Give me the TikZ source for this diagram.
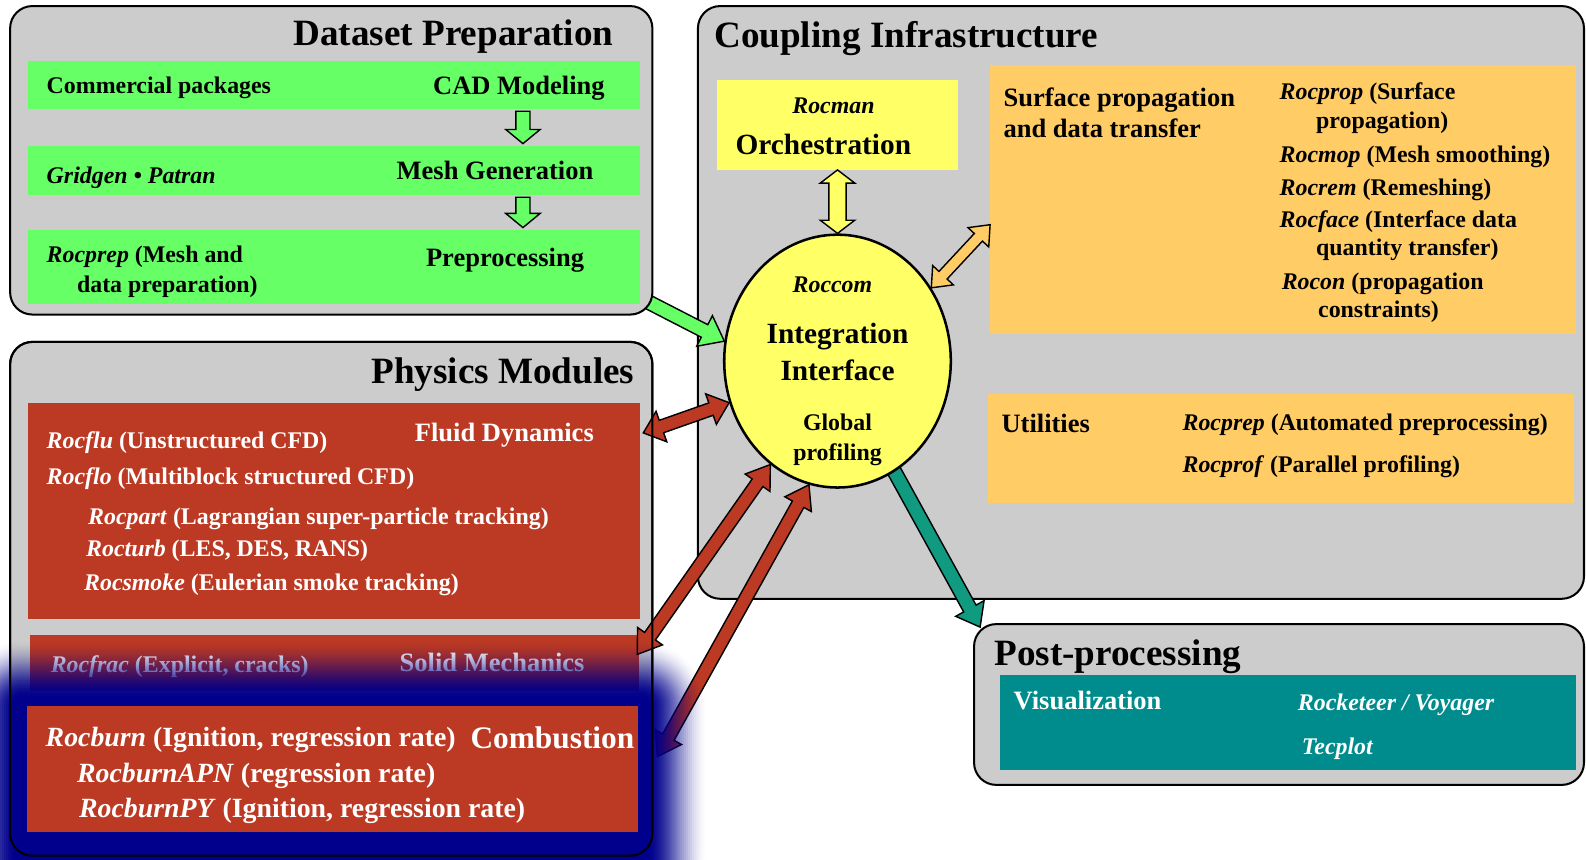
\documentclass[tikz,border=0pt]{standalone}
\usepackage{fontspec}
\setmainfont{Liberation Serif}
\usetikzlibrary{calc,shapes.geometric}
\pgfdeclarelayer{back}
\pgfdeclarelayer{mid}
\pgfdeclarelayer{top}
\pgfsetlayers{back,mid,main,top}

\definecolor{panelgray}{HTML}{CCCCCC}
\definecolor{prepgreen}{HTML}{66FF66}
\definecolor{ifcyellow}{HTML}{FFFF66}
\definecolor{svcorange}{HTML}{FFCC66}
\definecolor{physred}{RGB}{188,58,36}
\definecolor{vizteal}{RGB}{0,140,140}
\definecolor{linkteal}{RGB}{16,154,128}
\definecolor{glownavy}{RGB}{0,0,140}

% direction and length of the segment from #1 to #2 (in pt)
\newcommand\blockarrowframe[2]{%
  \path let \p1=($(#2)-(#1)$) in \pgfextra{%
    \pgfmathsetmacro\baAng{atan2(\y1,\x1)}%
    \pgfmathsetmacro\baLen{veclen(\x1,\y1)}%
    \global\let\baAng\baAng\global\let\baLen\baLen};}
% block arrow: style, from, to, shaft half width, head half width, head length
\newcommand\onewayarrow[6]{%
  \blockarrowframe{#2}{#3}%
  \begin{scope}[shift={(#2)},rotate=\baAng,x=1pt,y=1pt]
    \draw[#1] (0,-#4) -- ({\baLen-#6},-#4) -- ({\baLen-#6},-#5) -- (\baLen,0)
      -- ({\baLen-#6},#5) -- ({\baLen-#6},#4) -- (0,#4) -- cycle;
  \end{scope}}
\newcommand\twowayarrow[6]{%
  \blockarrowframe{#2}{#3}%
  \begin{scope}[shift={(#2)},rotate=\baAng,x=1pt,y=1pt]
    \draw[#1] (0,0) -- (#6,#5) -- (#6,#4) -- ({\baLen-#6},#4) -- ({\baLen-#6},#5)
      -- (\baLen,0) -- ({\baLen-#6},-#5) -- ({\baLen-#6},-#4) -- (#6,-#4) -- (#6,-#5) -- cycle;
  \end{scope}}

\begin{document}
\begin{tikzpicture}[x=1pt,y=-1pt,
  panel/.style={draw=black,line width=2,fill=panelgray,rounded corners=22,anchor=north west,inner sep=0,outer sep=0},
  fillbox/.style={fill=#1,anchor=north west,inner sep=0,outer sep=0},
  ttl/.style={anchor=base west,inner sep=0,font=\fontsize{36.7pt}{40pt}\selectfont\bfseries},
  hdtxt/.style={anchor=base west,inner sep=0,font=\fontsize{26.2pt}{30pt}\selectfont\bfseries},
  itemtxt/.style={anchor=base west,inner sep=0,font=\fontsize{23.6pt}{28pt}\selectfont\bfseries},
  bigtxt/.style={anchor=base,inner sep=0,font=\fontsize{29pt}{32pt}\selectfont\bfseries},
  combtxt/.style={anchor=base west,inner sep=0,text=white,font=\fontsize{27.5pt}{31pt}\selectfont\bfseries},
  combhd/.style={anchor=base west,inner sep=0,text=white,font=\fontsize{31pt}{34pt}\selectfont\bfseries},
  blockarrow/.style={draw=black,line width=1.4,line join=miter,fill=#1}]
\useasboundingbox (0,0) rectangle (1568,850);

% ---------------- panels drawn underneath everything
\begin{pgfonlayer}{back}
  \node[panel,minimum width=876,minimum height=586] (cpl) at (690,6) {};
  \node[panel,minimum width=603,minimum height=159] (post) at (963,617) {};
\end{pgfonlayer}

% ---------------- Coupling Infrastructure
\node[ttl] (cpltitle) at (706,47) {Coupling Infrastructure};
\node[fillbox=ifcyellow,minimum width=238,minimum height=89] (orch) at (709,79) {};
\node[itemtxt,anchor=base] (rocman) at (824,112) {\textit{Rocman}};
\node[bigtxt] (orchtxt) at (814,153) {Orchestration};

\node[fillbox=svcorange,minimum width=579,minimum height=266] (surf) at (979,64) {};
\node[hdtxt] (surf1) at (992,105) {Surface propagation};
\node[hdtxt] (surf2) at (992,136) {and data transfer};
\node[itemtxt] (prop1) at (1265,98) {\textit{Rocprop} (Surface};
\node[itemtxt] (prop2) at (1301,127) {propagation)};
\node[itemtxt] (mop) at (1265,161) {\textit{Rocmop} (Mesh smoothing)};
\node[itemtxt] (rem) at (1265,193) {\textit{Rocrem} (Remeshing)};
\node[itemtxt] (face1) at (1265,225) {\textit{Rocface} (Interface data};
\node[itemtxt] (face2) at (1301,253) {quantity transfer)};
\node[itemtxt] (con1) at (1267,286) {\textit{Rocon} (propagation};
\node[itemtxt] (con2) at (1303,314) {constraints)};

\node[fillbox=svcorange,minimum width=579,minimum height=107] (util) at (977,390) {};
\node[hdtxt] (utiltxt) at (990,428) {Utilities};
\node[itemtxt] (uprep) at (1169,426) {\textit{Rocprep} (Automated preprocessing)};
\node[itemtxt] (uprof) at (1169,467) {\textit{Rocprof} (Parallel profiling)};

% integration interface
\node[ellipse,draw=black,line width=2.5,fill=ifcyellow,minimum width=224,minimum height=250,inner sep=0] (ifc) at (828,357) {};
\node[itemtxt,anchor=base] (roccom) at (823,289) {\textit{Roccom}};
\node[bigtxt] (integ) at (828,340) {Integration};
\node[bigtxt] (iface) at (828,376) {Interface};
\node[itemtxt,anchor=base] (glob) at (828,426) {Global};
\node[itemtxt,anchor=base] (prof) at (828,455) {profiling};

% ---------------- Post-processing
\node[ttl] (posttitle) at (983,658) {Post-processing};
\node[fillbox=vizteal,minimum width=569,minimum height=94] (viz) at (989,667) {};
\node[hdtxt,text=white] (viztxt) at (1002,701) {Visualization};
\node[itemtxt,text=white] (rocketeer) at (1283,702) {\textit{Rocketeer / Voyager}};
\node[itemtxt,text=white] (tecplot) at (1287,746) {\textit{Tecplot}};

% ---------------- Dataset Preparation
\node[panel,minimum width=635,minimum height=305] (dsp) at (10,6) {};
\node[ttl] (dsptitle) at (290,45) {Dataset Preparation};
\node[fillbox=prepgreen,minimum width=605,minimum height=48] (cadbox) at (28,60) {};
\node[fillbox=prepgreen,minimum width=605,minimum height=49] (meshbox) at (28,144) {};
\node[fillbox=prepgreen,minimum width=605,minimum height=74] (prepbox) at (28,227) {};
\node[itemtxt] (commercial) at (46,92) {Commercial packages};
\node[hdtxt] (cadtxt) at (428,93) {CAD Modeling};
\node[itemtxt] (gridgen) at (46,181) {\textit{Gridgen • Patran}};
\node[hdtxt] (meshtxt) at (392,177) {Mesh Generation};
\node[itemtxt] (rocprep1) at (46,260) {\textit{Rocprep} (Mesh and};
\node[itemtxt] (rocprep2) at (76,289) {data preparation)};
\node[hdtxt] (preproc) at (421,263) {Preprocessing};

\coordinate (c1a) at ($(cadbox.south west)+(489,2)$);
\coordinate (c1b) at ($(meshbox.north west)+(489,-2)$);
\coordinate (c2a) at ($(meshbox.south west)+(489,2)$);
\coordinate (c2b) at ($(prepbox.north west)+(489,-2)$);
\onewayarrow{blockarrow=prepgreen}{c1a}{c1b}{7}{17}{14}
\onewayarrow{blockarrow=prepgreen}{c2a}{c2b}{7}{17}{14}

% ---------------- Physics Modules
\node[panel,minimum width=635,minimum height=508] (phy) at (10,338) {};
\node[ttl] (phytitle) at (367,379) {Physics Modules};
\node[fillbox=physred,minimum width=605,minimum height=214] (fluid) at (28,398) {};
\node[hdtxt,text=white] (fluidtxt) at (410,436) {Fluid Dynamics};
\node[itemtxt,text=white] (rocflu) at (46,443) {\textit{Rocflu} (Unstructured CFD)};
\node[itemtxt,text=white] (rocflo) at (46,479) {\textit{Rocflo} (Multiblock structured CFD)};
\node[itemtxt,text=white] (rocpart) at (87,519) {\textit{Rocpart} (Lagrangian super-particle tracking)};
\node[itemtxt,text=white] (rocturb) at (85,550) {\textit{Rocturb} (LES, DES, RANS)};
\node[itemtxt,text=white] (rocsmoke) at (83,584) {\textit{Rocsmoke} (Eulerian smoke tracking)};

\node[fillbox=physred,minimum width=602,minimum height=55] (solid) at (30,628) {};
\node[itemtxt,text=white] (rocfrac) at (50,665) {\textit{Rocfrac} (Explicit, cracks)};
\node[hdtxt,text=white] (solidtxt) at (395,664) {Solid Mechanics};

% combustion block sits above the highlight glow
\begin{pgfonlayer}{top}
  \node[fillbox=physred,minimum width=604,minimum height=125] (comb) at (27,698) {};
  \node[combtxt] (rocburn) at (45,738) {\textit{Rocburn} (Ignition, regression rate)};
  \node[combhd] (combtxt) at (465,740) {Combustion};
  \node[combtxt] (apn) at (76,774) {\textit{RocburnAPN} (regression rate)};
  \node[combtxt] (py) at (78,808) {\textit{RocburnPY} (Ignition, regression rate)};
  \draw[line width=2,rounded corners=22] (phy.north west) rectangle (phy.south east);
\end{pgfonlayer}

% ---------------- connectors
\coordinate (gtail) at ($(dsp.south east)+(-15,-18)$);
\coordinate (ttail) at ($(ifc.center)!0.85!(ifc.297)$);
\coordinate (ttip) at ($(post.north west)+(6,3)$);
\begin{pgfonlayer}{mid}
  \onewayarrow{blockarrow=prepgreen}{gtail}{ifc.170}{7}{17}{22}
  \onewayarrow{blockarrow=linkteal}{ttail}{ttip}{7}{16}{21}
\end{pgfonlayer}

\twowayarrow{blockarrow=ifcyellow}{orch.south}{ifc.north}{8.5}{17}{13}
\coordinate (otip) at ($(surf.north west)+(0,158)$);
\twowayarrow{blockarrow=svcorange}{ifc.38}{otip}{5.5}{14}{17}
\coordinate (r1) at ($(fluid.north east)+(3,30)$);
\twowayarrow{blockarrow=physred}{r1}{ifc.201}{6.5}{16}{19}
\coordinate (r2) at ($(solid.north east)+(-2,19)$);
\twowayarrow{blockarrow=physred}{ifc.237}{r2}{6.5}{15}{22}
\coordinate (r3) at ($(comb.north east)+(19,50)$);
\twowayarrow{blockarrow=physred}{ifc.257}{r3}{6.5}{15}{22}

% ---------------- soft highlight glow around the combustion block
% nested layers, 2pt apart; opacities chosen so that the stacked
% coverage follows a smoothstep fall-off over 60pt
\foreach \k in {30,29,...,1}{
  \pgfmathsetmacro\sa{min(1,(2*\k-1)/60)}
  \pgfmathsetmacro\sb{min(1,(2*\k+1)/60)}
  \pgfmathsetmacro\ca{(1-\sa)^2*(1+2*\sa)}
  \pgfmathsetmacro\cb{(1-\sb)^2*(1+2*\sb)}
  \pgfmathsetmacro\glowop{1-(1-\ca)/(1-\cb)}
  \pgfmathsetmacro\glowrc{2*\k+6}
  \fill[glownavy,opacity=\glowop,rounded corners=\glowrc]
    ({16-2*\k},{692-2*\k}) rectangle ({640+2*\k},900);
}
\fill[glownavy,rounded corners=6] (16,692) rectangle (640,900);

\end{tikzpicture}
\end{document}
